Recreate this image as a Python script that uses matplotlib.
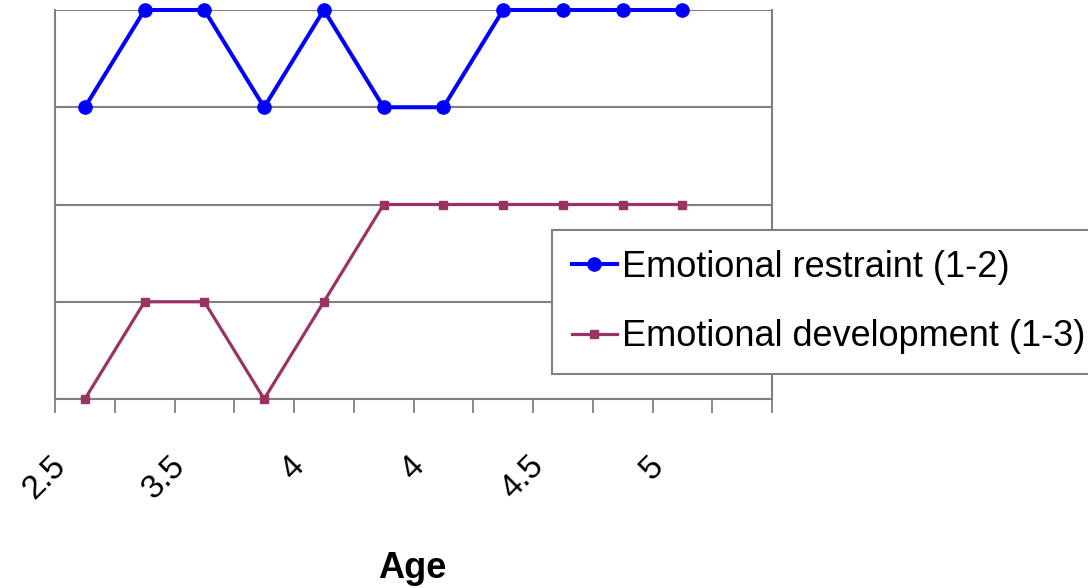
import matplotlib
matplotlib.use("Agg")
import matplotlib.pyplot as plt
from matplotlib.transforms import ScaledTranslation

plt.rcParams['font.family'] = ['Liberation Sans', 'DejaVu Sans']

# chart data (y values as they sit on the unlabeled axis, 1..5)
n_cats = 12
restraint = [4, 5, 5, 4, 5, 4, 4, 5, 5, 5, 5]
development = [1, 2, 2, 1, 2, 3, 3, 3, 3, 3, 3]
label_pos = [0, 2, 4, 6, 8, 10]
age_labels = ["2.5", "3.5", "4", "4", "4.5", "5"]
series_names = ["Emotional restraint (1-2)", "Emotional development (1-3)"]

W, H = 1088, 588
fig = plt.figure(figsize=(W / 100, H / 100), dpi=100)
ax = fig.add_axes([55 / W, 1 - 399 / H, (772 - 55) / W, (399 - 10) / H])

grey = '#808080'
x = list(range(len(restraint)))
ax.plot(x, restraint, color='#0000ff', lw=2.9, marker='o', ms=9.5,
        label=series_names[0], clip_on=False, zorder=3)
ax.plot(x, development, color='#993366', lw=2.3, marker='s', ms=6,
        label=series_names[1], clip_on=False, zorder=3)

ax.set_xlim(-0.5, n_cats - 0.5)
ax.set_ylim(1, 5)

# grid lines at every level
ax.set_yticks([1, 2, 3, 4, 5])
ax.tick_params(axis='y', length=0, labelleft=False)
ax.yaxis.grid(True, color=grey, lw=1.5)
ax.set_axisbelow(True)

for side in ['left', 'bottom', 'right']:
    ax.spines[side].set_color(grey)
    ax.spines[side].set_linewidth(1.5)
ax.spines['top'].set_visible(False)

# tick marks between categories, labels on every other category
ax.set_xticks([i - 0.5 for i in range(n_cats + 1)])
ax.set_xticklabels([])
ax.tick_params(axis='x', which='major', direction='out', length=10, width=1.3, color=grey)
ax.set_xticks(label_pos, minor=True)
ax.set_xticklabels(age_labels, minor=True)
ax.tick_params(axis='x', which='minor', length=0, pad=45, labelsize=24)
shift = ScaledTranslation(-24 / 100, 0, fig.dpi_scale_trans)
for lab in ax.get_xticklabels(minor=True):
    lab.set_rotation(45)
    lab.set_ha('right')
    lab.set_va('center')
    lab.set_rotation_mode('anchor')
    lab.set_transform(lab.get_transform() + shift)

fig.text(412 / W, 1 - 568 / H, "Age", fontsize=26, fontweight='bold', ha='center', va='center')

leg = fig.legend(loc='upper left', bbox_to_anchor=(552 / W, 1 - 230 / H), borderaxespad=0,
                 fontsize=26, handlelength=1.25, handletextpad=0.15, labelspacing=0.95,
                 borderpad=0.55, fancybox=False, framealpha=1, edgecolor=grey)
leg.get_frame().set_linewidth(1.5)

fig.savefig("out.png", dpi=100)
